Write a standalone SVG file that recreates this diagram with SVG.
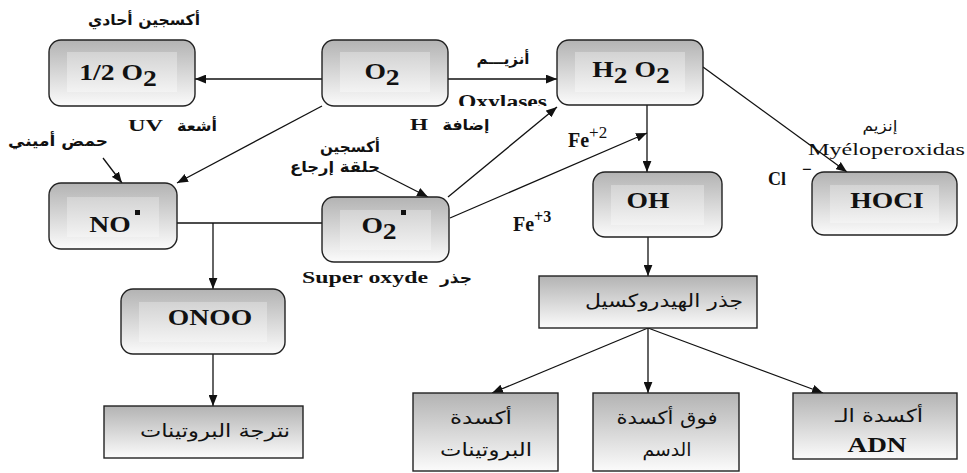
<svg xmlns="http://www.w3.org/2000/svg" width="967" height="473" viewBox="0 0 967 473">
<style>
.rb{fill:url(#gOuter);stroke:#222;stroke-width:1.4}
.in{fill:url(#gInner);stroke:none}
.sq{fill:url(#gOuter);stroke:#222;stroke-width:1.4}
.nt{font-family:"Liberation Serif","Times New Roman",serif;font-weight:bold;font-size:23px;fill:#111;text-anchor:middle}
.lt{font-family:"Liberation Serif","Times New Roman",serif;font-weight:bold;font-size:17px;fill:#111}
.lr{font-family:"Liberation Serif","Times New Roman",serif;font-size:17px;fill:#111}
.ar{font-family:"DejaVu Sans",sans-serif;font-weight:bold;font-size:15px;fill:#111;text-anchor:middle}
.ab{font-family:"DejaVu Sans",sans-serif;font-size:18px;fill:#111;text-anchor:middle}
.cn{fill:none;stroke:#111;stroke-width:1.3}
.ar-end{marker-end:url(#arr)}
</style>
<defs>
<linearGradient id="gOuter" x1="0" y1="0" x2="0" y2="1">
<stop offset="0" stop-color="#b3b3b3"/>
<stop offset="1" stop-color="#fbfbfb"/>
</linearGradient>
<linearGradient id="gInner" x1="0" y1="0" x2="0" y2="1">
<stop offset="0" stop-color="#d3d3d3"/>
<stop offset="1" stop-color="#f3f3f3"/>
</linearGradient>
<marker id="arr" viewBox="0 0 10 8" refX="10" refY="4" markerWidth="11" markerHeight="9" markerUnits="userSpaceOnUse" orient="auto">
<path d="M0,0 L10,4 L0,8 z" fill="#111"/>
</marker>
<clipPath id="clipOxy">
<rect x="440" y="85" width="130" height="21"/>
</clipPath>
</defs>

<g id="connectors">
<path class="cn ar-end" d="M322,79 L195,79"/>
<path class="cn ar-end" d="M448,79 L557,79"/>
<path class="cn ar-end" d="M322,106 L177,183"/>
<path class="cn ar-end" d="M103,158 L122,183"/>
<path class="cn" d="M177,223 L322,223"/>
<path class="cn ar-end" d="M213,223 L213,289"/>
<path class="cn ar-end" d="M375,170 L428,197"/>
<path class="cn ar-end" d="M448,197 L557,107"/>
<path class="cn ar-end" d="M450,218 L647,133"/>
<path class="cn ar-end" d="M647,105 L647,172"/>
<path class="cn ar-end" d="M703,67 L847,172"/>
<path class="cn ar-end" d="M648,237 L648,276"/>
<path class="cn ar-end" d="M648,328 L492,393"/>
<path class="cn ar-end" d="M648,328 L648,393"/>
<path class="cn ar-end" d="M648,328 L823,393"/>
<path class="cn ar-end" d="M213,354 L213,406"/>
</g>

<g id="n-half-o2">
<rect class="rb" x="49" y="40" width="146" height="66" rx="12"/>
<rect class="in" x="67" y="52" width="110" height="40"/>
<text class="nt" transform="translate(118,80) scale(1.2,1)">1/2 O<tspan dy="6">2</tspan></text>
</g>

<g id="n-o2">
<rect class="rb" x="322" y="40" width="126" height="66" rx="12"/>
<rect class="in" x="340" y="52" width="90" height="40"/>
<text class="nt" transform="translate(382,79) scale(1.2,1)">O<tspan dy="6">2</tspan></text>
</g>

<g id="n-h2o2">
<rect class="rb" x="557" y="40" width="146" height="65" rx="12"/>
<rect class="in" x="575" y="52" width="110" height="40"/>
<text class="nt" transform="translate(631,77) scale(1.2,1)">H<tspan dy="6">2</tspan><tspan dy="-6"> O</tspan><tspan dy="6">2</tspan></text>
</g>

<g id="n-no">
<rect class="rb" x="49" y="183" width="128" height="66" rx="12"/>
<rect class="in" x="67" y="197" width="92" height="40"/>
<text class="nt" transform="translate(110,232) scale(1.2,1)">NO</text>
<rect x="135" y="210" width="5" height="5" fill="#111"/>
</g>

<g id="n-superoxide">
<rect class="rb" x="322" y="197" width="127" height="65" rx="12"/>
<rect class="in" x="340" y="210" width="91" height="40"/>
<text class="nt" transform="translate(379,233) scale(1.2,1)">O<tspan dy="6">2</tspan></text>
<rect x="401" y="210" width="5" height="5" fill="#111"/>
</g>

<g id="n-oh">
<rect class="rb" x="593" y="172" width="129" height="65" rx="12"/>
<rect class="in" x="611" y="185" width="93" height="40"/>
<text class="nt" transform="translate(648,208) scale(1.2,1)">OH</text>
</g>

<g id="n-hocl">
<rect class="rb" x="812" y="172" width="145" height="63" rx="12"/>
<rect class="in" x="830" y="185" width="109" height="38"/>
<text class="nt" transform="translate(887,208) scale(1.2,1)">HOCI</text>
</g>

<g id="n-onoo">
<rect class="rb" x="121" y="289" width="164" height="65" rx="12"/>
<rect class="in" x="139" y="302" width="128" height="40"/>
<text class="nt" transform="translate(210,325) scale(1.2,1)">ONOO</text>
</g>

<g id="n-nitration">
<rect class="sq" x="104" y="406" width="199" height="52"/>
<text class="ab" x="215" y="437" textLength="150" lengthAdjust="spacingAndGlyphs">نترجة البروتينات</text>
</g>

<g id="n-hydroxyl">
<rect class="sq" x="539" y="276" width="218" height="52"/>
<text class="ab" x="664" y="307" textLength="158" lengthAdjust="spacingAndGlyphs">جذر الهيدروكسيل</text>
</g>

<g id="n-protein-ox">
<rect class="sq" x="413" y="393" width="145" height="78"/>
<text class="ab" x="481" y="424" textLength="62" lengthAdjust="spacingAndGlyphs">أكسدة</text>
<text class="ab" x="486" y="456" textLength="92" lengthAdjust="spacingAndGlyphs">البروتينات</text>
</g>

<g id="n-lipid">
<rect class="sq" x="593" y="393" width="146" height="78"/>
<text class="ab" x="667" y="424" textLength="101" lengthAdjust="spacingAndGlyphs">فوق أكسدة</text>
<text class="ab" x="667" y="456" textLength="49" lengthAdjust="spacingAndGlyphs">الدسم</text>
</g>

<g id="n-adn">
<rect class="sq" x="793" y="393" width="164" height="66"/>
<text class="ab" x="879" y="422" textLength="88" lengthAdjust="spacingAndGlyphs">أكسدة الـ</text>
<text class="nt" x="877" y="452" textLength="59" lengthAdjust="spacingAndGlyphs" style="font-size:21px">ADN</text>
</g>

<g id="labels">
<text class="ar" x="144" y="25" textLength="112" lengthAdjust="spacingAndGlyphs">أكسجين أحادي</text>
<text class="lt" x="128" y="131" textLength="35" lengthAdjust="spacingAndGlyphs">UV</text>
<text class="ar" x="197" y="131" textLength="40" lengthAdjust="spacingAndGlyphs">أشعة</text>
<text class="ar" x="58" y="146" textLength="100" lengthAdjust="spacingAndGlyphs">حمض أميني</text>
<text class="ar" x="503" y="64" textLength="53" lengthAdjust="spacingAndGlyphs">أنزيـــم</text>
<text class="lt" x="458" y="108" textLength="89" lengthAdjust="spacingAndGlyphs" style="font-size:18px" clip-path="url(#clipOxy)">Oxylases</text>
<text class="lt" x="410" y="130" textLength="18" lengthAdjust="spacingAndGlyphs">H</text>
<text class="ar" x="466" y="130" textLength="47" lengthAdjust="spacingAndGlyphs">إضافة</text>
<text class="lt" x="568" y="147" style="font-size:20px">Fe<tspan dy="-9" style="font-weight:normal;font-size:17px">+2</tspan></text>
<text class="ar" x="350" y="152" textLength="60" lengthAdjust="spacingAndGlyphs">أكسجين</text>
<text class="ar" x="335" y="172" textLength="90" lengthAdjust="spacingAndGlyphs">حلقة إرجاع</text>
<text class="lt" x="513" y="231" style="font-size:20px">Fe<tspan dy="-9" style="font-size:16px">+3</tspan></text>
<text class="lt" x="302" y="283" textLength="126" lengthAdjust="spacingAndGlyphs">Super oxyde</text>
<text class="ar" x="456" y="283" textLength="32" lengthAdjust="spacingAndGlyphs">جذر</text>
<text class="ar" x="880" y="131" style="font-weight:normal" textLength="35" lengthAdjust="spacingAndGlyphs">إنزيم</text>
<text class="lr" x="808" y="155" textLength="157" lengthAdjust="spacingAndGlyphs">Myéloperoxidas</text>
<text class="lt" x="768" y="185" style="font-size:18px">Cl</text>
<text class="lt" x="802" y="175">−</text>
</g>
</svg>
